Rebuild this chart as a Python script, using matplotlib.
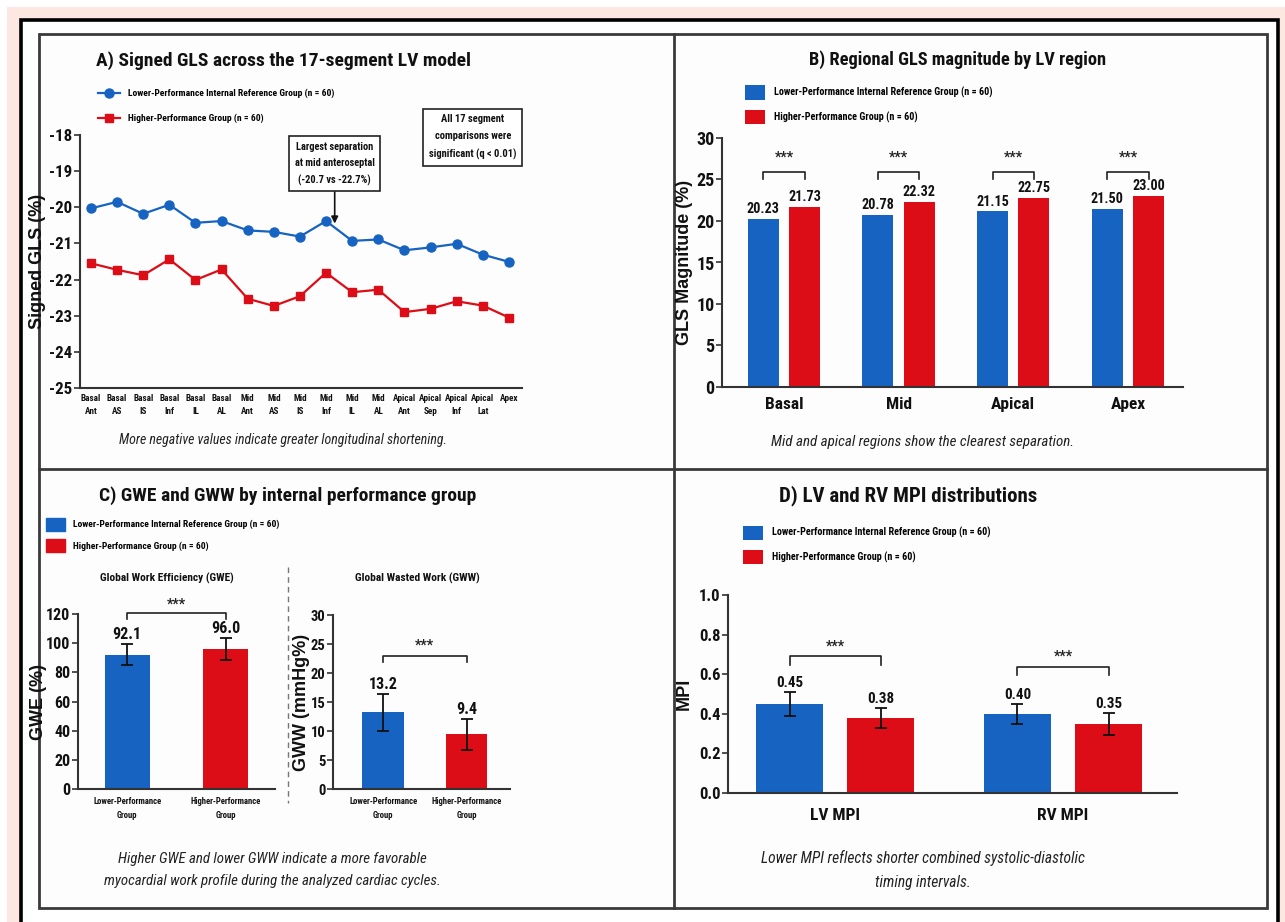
import numpy as np
import matplotlib
matplotlib.use("Agg")
import matplotlib.pyplot as plt
from matplotlib import font_manager as fm
from matplotlib.patches import Rectangle
from matplotlib.lines import Line2D

# ---------------- data ----------------
segments = ["Basal\nAnt", "Basal\nAS", "Basal\nIS", "Basal\nInf", "Basal\nIL", "Basal\nAL",
            "Mid\nAnt", "Mid\nAS", "Mid\nIS", "Mid\nInf", "Mid\nIL", "Mid\nAL",
            "Apical\nAnt", "Apical\nSep", "Apical\nInf", "Apical\nLat", "Apex"]
gls_lower = [-20.03, -19.85, -20.18, -19.93, -20.43, -20.38, -20.64, -20.68, -20.81,
             -20.38, -20.93, -20.89, -21.19, -21.11, -21.01, -21.31, -21.51]
gls_higher = [-21.55, -21.73, -21.88, -21.44, -22.01, -21.72, -22.53, -22.73, -22.46,
              -21.81, -22.35, -22.28, -22.90, -22.81, -22.60, -22.72, -23.05]

regions = ["Basal", "Mid", "Apical", "Apex"]
region_lower = [20.23, 20.78, 21.15, 21.50]
region_higher = [21.73, 22.32, 22.75, 23.00]

work_groups = ["Lower-Performance\nGroup", "Higher-Performance\nGroup"]
gwe_mean = [92.1, 96.0]
gwe_sd = [7.0, 7.5]
gww_mean = [13.2, 9.4]
gww_sd = [3.2, 2.6]

mpi_labels = ["LV MPI", "RV MPI"]
mpi_lower = [0.45, 0.40]
mpi_lower_sd = [0.06, 0.05]
mpi_higher = [0.38, 0.35]
mpi_higher_sd = [0.05, 0.055]

lbl_lower = "Lower-Performance Internal Reference Group (n = 60)"
lbl_higher = "Higher-Performance Group (n = 60)"

# ---------------- style ----------------
BLUE = "#1763c1"
RED = "#dc0d16"
AXC = "#333333"
TXT = "#111111"

_STRETCH = {"ultra-condensed": 100, "extra-condensed": 200, "condensed": 300,
            "semi-condensed": 400, "normal": 500}


def _sv(s):
    return s if isinstance(s, (int, float)) else _STRETCH.get(s, 500)


names = {f.name for f in fm.fontManager.ttflist}
narrow_names = sorted({f.name for f in fm.fontManager.ttflist
                       if _sv(f.stretch) <= 400 or "Narrow" in f.name or "Condensed" in f.name})
NARROW = None
for pref in ("Liberation Sans Narrow", "Roboto Condensed", "DejaVu Sans Condensed",
             "Noto Sans", "Open Sans", "DejaVu Sans"):
    if pref in narrow_names:
        NARROW = pref
        break
if NARROW is None and narrow_names:
    NARROW = narrow_names[0]

# S rescales sizes when only a regular-width face is available
if NARROW is not None:
    plt.rcParams["font.family"] = [NARROW, "DejaVu Sans"]
    plt.rcParams["font.stretch"] = "condensed"
    S = 1.0
else:
    plt.rcParams["font.family"] = ["Liberation Sans", "DejaVu Sans"]
    S = 0.83
plt.rcParams["axes.unicode_minus"] = False
WIDE = "Liberation Sans" if "Liberation Sans" in names else "DejaVu Sans"

W, H = 1285, 922
fig = plt.figure(figsize=(W / 100, H / 100), dpi=100)
fig.patch.set_facecolor("white")


def fx(px):
    return px / W


def fy(py):
    return 1 - py / H


def box(l, t, r, b):
    return [l / W, 1 - b / H, (r - l) / W, (b - t) / H]


# page background and frames
fig.add_artist(Rectangle((fx(7), 0), 1 - fx(7), fy(7), transform=fig.transFigure,
                         facecolor="#fce8e0", edgecolor="none", zorder=-10))
fig.add_artist(Rectangle((fx(21), -0.05), fx(1278) - fx(21), fy(20) + 0.05,
                         transform=fig.transFigure, facecolor="white",
                         edgecolor="black", lw=2.6, zorder=-9))
fig.add_artist(Rectangle((fx(39), fy(908)), fx(1267) - fx(39), fy(34) - fy(908),
                         transform=fig.transFigure, facecolor="#fdfdfd",
                         edgecolor="#3a3a3a", lw=2.0, zorder=-8))
fig.add_artist(Line2D([fx(674), fx(674)], [fy(34), fy(908)], transform=fig.transFigure,
                      color="#3a3a3a", lw=2.0, zorder=-7))
fig.add_artist(Line2D([fx(39), fx(1267)], [fy(469), fy(469)], transform=fig.transFigure,
                      color="#3a3a3a", lw=2.0, zorder=-7))


def leg_kw(size):
    return dict(frameon=False, borderpad=0, borderaxespad=0, handletextpad=0.9,
                prop={"weight": "bold", "size": size * S})


def style_axes(ax, ysize):
    ax.set_facecolor("none")
    for s in ("top", "right"):
        ax.spines[s].set_visible(False)
    for s in ("left", "bottom"):
        ax.spines[s].set_color(AXC)
        ax.spines[s].set_linewidth(1.5)
    ax.tick_params(axis="y", direction="out", length=4, width=1.2, color=AXC,
                   labelsize=ysize * S, pad=1.5, labelcolor=TXT)
    ax.tick_params(axis="x", length=0, labelcolor=TXT)
    for t in ax.get_yticklabels():
        t.set_fontweight("bold")


def title(px, py, text, size):
    fig.text(fx(px), fy(py), text, ha="center", va="center", fontsize=size * S,
             fontweight="bold", color=TXT)


def caption(px, py, text, size):
    fig.text(fx(px), fy(py), text, ha="center", va="center", fontsize=size * S,
             style="italic", color="#222222", linespacing=1.75)


def ylabel(ax, text, xcoord):
    ax.set_ylabel(text, fontsize=13, fontweight="bold", family=WIDE, color=TXT)
    ax.yaxis.set_label_coords(xcoord, 0.5)


def bracket(ax, x0, x1, y, drop, star_y):
    ax.plot([x0, x0, x1, x1], [y - drop, y, y, y - drop], color="#222222", lw=1.2,
            clip_on=False)
    ax.text((x0 + x1) / 2, star_y, "***", ha="center", va="center", fontsize=10 * S,
            fontweight="bold", color="#222222", clip_on=False)


def value_labels(ax, xpos, tops, texts, size, dy=1.5):
    for xi, top, t in zip(xpos, tops, texts):
        ax.annotate(t, (xi, top), xytext=(0, dy), textcoords="offset points",
                    ha="center", va="bottom", fontsize=size * S, fontweight="bold",
                    color=TXT)


# ---------------- A) line chart ----------------
axA = fig.add_axes(box(80, 135, 522, 388))
xs = np.arange(len(segments))
axA.plot(xs, gls_lower, color=BLUE, lw=1.6, marker="o", ms=6.5, label=lbl_lower)
axA.plot(xs, gls_higher, color=RED, lw=1.6, marker="s", ms=6, label=lbl_higher)
axA.set_xlim(-0.42, 16.5)
axA.set_ylim(-25, -18)
axA.set_yticks(np.arange(-25, -17, 1))
axA.set_xticks(xs)
axA.set_xticklabels(segments, fontsize=6.6 * S, fontweight="bold", linespacing=1.55)
style_axes(axA, 12.2)
axA.tick_params(axis="x", pad=4.5)
ylabel(axA, "Signed GLS (%)", -0.078)
axA.legend(loc="upper left", bbox_to_anchor=(fx(98), fy(89)), bbox_transform=fig.transFigure,
           handlelength=2.3, labelspacing=1.65, **leg_kw(6.8))
axA.annotate("Largest separation\nat mid anteroseptal\n(-20.7 vs -22.7%)",
             xy=(9.33, -20.45), xytext=(9.33, -18.79), ha="center", va="center",
             fontsize=7.5 * S, fontweight="bold", linespacing=1.75, color=TXT,
             bbox=dict(boxstyle="square,pad=0.55", fc="white", ec="#222222", lw=1.2),
             arrowprops=dict(arrowstyle="-|>", color="#111111", lw=1.2, shrinkA=0,
                             shrinkB=0, mutation_scale=10))
axA.text(14.62, -18.06, "All 17 segment\ncomparisons were\nsignificant (q < 0.01)",
         ha="center", va="center", fontsize=7.6 * S, fontweight="bold", linespacing=1.85,
         color=TXT, bbox=dict(boxstyle="square,pad=0.55", fc="white", ec="#222222", lw=1.2),
         clip_on=False)
title(283, 61, "A) Signed GLS across the 17-segment LV model", 14)
caption(283, 440, "More negative values indicate greater longitudinal shortening.", 10.0)

# ---------------- B) grouped bars ----------------
axB = fig.add_axes(box(722, 138, 1183, 387))
xr = np.arange(len(regions))
off, bw = 0.18, 0.27
axB.bar(xr - off, region_lower, bw, color=BLUE, label=lbl_lower)
axB.bar(xr + off, region_higher, bw, color=RED, label=lbl_higher)
axB.set_xlim(-0.54, 3.48)
axB.set_ylim(0, 30)
axB.set_yticks(np.arange(0, 31, 5))
axB.set_xticks(xr)
axB.set_xticklabels(regions, fontsize=12.5 * S, fontweight="bold")
style_axes(axB, 13)
axB.tick_params(axis="x", pad=7)
value_labels(axB, xr - off, region_lower, [f"{v:.2f}" for v in region_lower], 10.2, dy=2)
value_labels(axB, xr + off, region_higher, [f"{v:.2f}" for v in region_higher], 10.2, dy=2)
for xi in xr:
    bracket(axB, xi - off, xi + off, 25.9, 0.9, 27.6)
ylabel(axB, "GLS Magnitude (%)", -0.062)
axB.legend(loc="upper left", bbox_to_anchor=(fx(745), fy(85.5)), bbox_transform=fig.transFigure,
           handlelength=2.0, handleheight=1.75, labelspacing=1.05, **leg_kw(7.3))
title(958, 60, "B) Regional GLS magnitude by LV region", 13.2)
caption(923, 442, "Mid and apical regions show the clearest separation.", 10.8)

# ---------------- C) GWE and GWW ----------------
err_kw = dict(ecolor="#111111", elinewidth=1.3, capsize=4, capthick=1.3)
axC1 = fig.add_axes(box(78, 614, 275, 789))
xg = np.arange(2)
axC1.bar(xg, gwe_mean, 0.46, color=[BLUE, RED], yerr=gwe_sd, error_kw=err_kw)
axC1.set_xlim(-0.5, 1.5)
axC1.set_ylim(0, 120)
axC1.set_yticks(np.arange(0, 121, 20))
axC1.set_xticks(xg)
axC1.set_xticklabels(work_groups, fontsize=6.2 * S, fontweight="bold", linespacing=1.6)
style_axes(axC1, 11.5)
axC1.tick_params(axis="x", pad=6)
value_labels(axC1, xg, np.add(gwe_mean, gwe_sd), [f"{v:.1f}" for v in gwe_mean], 11.5)
bracket(axC1, 0, 1, 120.5, 4.0, 126.7)
ylabel(axC1, "GWE (%)", -0.155)

axC2 = fig.add_axes(box(333, 615, 510, 789))
axC2.bar(xg, gww_mean, 0.5, color=[BLUE, RED], yerr=gww_sd, error_kw=err_kw)
axC2.set_xlim(-0.6, 1.52)
axC2.set_ylim(0, 30)
axC2.set_yticks(np.arange(0, 31, 5))
axC2.set_xticks(xg)
axC2.set_xticklabels(work_groups, fontsize=6.2 * S, fontweight="bold", linespacing=1.6)
style_axes(axC2, 10.5)
axC2.tick_params(axis="x", pad=6)
value_labels(axC2, xg, np.add(gww_mean, gww_sd), [f"{v:.1f}" for v in gww_mean], 11.5)
bracket(axC2, 0, 1, 22.9, 1.0, 24.8)
ylabel(axC2, "GWW (mmHg%)", -0.13)

handles = [Rectangle((0, 0), 1, 1, color=BLUE), Rectangle((0, 0), 1, 1, color=RED)]
axC1.legend(handles, [lbl_lower, lbl_higher], loc="upper left",
            bbox_to_anchor=(fx(46), fy(517.5)), bbox_transform=fig.transFigure,
            handlelength=2.0, handleheight=1.75, labelspacing=0.93, **leg_kw(6.8))
fig.text(fx(167), fy(578), "Global Work Efficiency (GWE)", ha="center", va="center",
         fontsize=8.2 * S, fontweight="bold", color=TXT)
fig.text(fx(417), fy(578), "Global Wasted Work (GWW)", ha="center", va="center",
         fontsize=8.2 * S, fontweight="bold", color=TXT)
fig.add_artist(Line2D([fx(288), fx(288)], [fy(567), fy(803)], transform=fig.transFigure,
                      color="#777777", lw=1.0, ls=(0, (4, 3))))
title(288, 496, "C) GWE and GWW by internal performance group", 14)
caption(272, 870, "Higher GWE and lower GWW indicate a more favorable\n"
                  "myocardial work profile during the analyzed cardiac cycles.", 10.7)

# ---------------- D) MPI ----------------
axD = fig.add_axes(box(728, 595, 1177, 793))
xm = np.arange(len(mpi_labels))
offD, bwD = 0.2, 0.294
axD.bar(xm - offD, mpi_lower, bwD, color=BLUE, yerr=mpi_lower_sd, error_kw=err_kw,
        label=lbl_lower)
axD.bar(xm + offD, mpi_higher, bwD, color=RED, yerr=mpi_higher_sd, error_kw=err_kw,
        label=lbl_higher)
axD.set_xlim(-0.47, 1.5)
axD.set_ylim(0, 1.0)
axD.set_yticks(np.arange(0, 1.01, 0.2))
axD.set_yticklabels([f"{t:.1f}" for t in np.arange(0, 1.01, 0.2)])
axD.set_xticks(xm)
axD.set_xticklabels(mpi_labels, fontsize=12.5 * S, fontweight="bold")
style_axes(axD, 12)
axD.tick_params(axis="x", pad=11)
value_labels(axD, xm - offD, np.add(mpi_lower, mpi_lower_sd),
             [f"{v:.2f}" for v in mpi_lower], 10.8)
value_labels(axD, xm + offD, np.add(mpi_higher, mpi_higher_sd),
             [f"{v:.2f}" for v in mpi_higher], 10.8)
bracket(axD, -offD, offD, 0.69, 0.045, 0.74)
bracket(axD, 1 - offD, 1 + offD, 0.635, 0.04, 0.69)
ylabel(axD, "MPI", -0.078)
axD.legend(loc="upper left", bbox_to_anchor=(fx(743), fy(525.5)), bbox_transform=fig.transFigure,
           handlelength=2.0, handleheight=1.75, labelspacing=1.05, **leg_kw(7.3))
title(908, 496, "D) LV and RV MPI distributions", 15)
caption(923, 870, "Lower MPI reflects shorter combined systolic-diastolic\ntiming intervals.", 11.2)

fig.savefig("out.png", dpi=100, facecolor=fig.get_facecolor())
